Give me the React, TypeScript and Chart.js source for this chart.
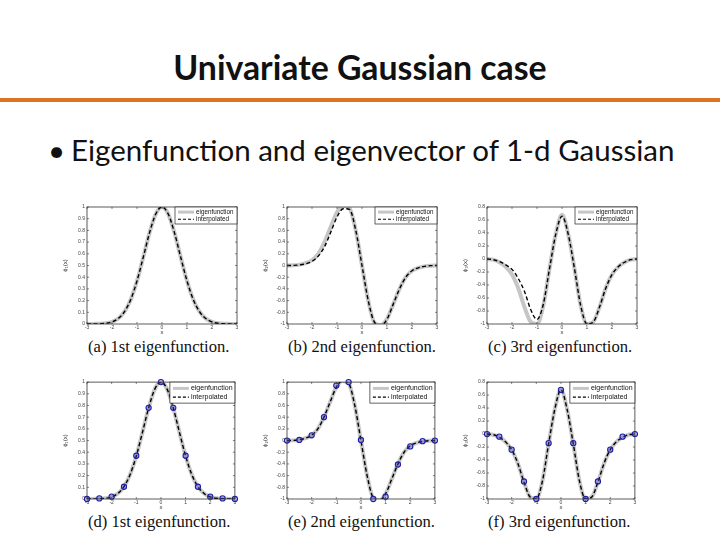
import React, { useEffect, useRef } from "react";
import { Chart, registerables } from "chart.js";
Chart.register(...registerables);

// x positions of the curve readings and of the sampled points
const xFine = [-3, -2.75, -2.5, -2.25, -2, -1.75, -1.5, -1.25, -1, -0.75, -0.5, -0.25, 0, 0.25, 0.5, 0.75, 1, 1.25, 1.5, 1.75, 2, 2.25, 2.5, 2.75, 3];
const xCoarse = [-3, -2.5, -2, -1.5, -1, -0.5, 0, 0.5, 1, 1.5, 2, 2.5, 3];
const xTicks = [-3, -2, -1, 0, 1, 2, 3];

// 1st eigenfunction
const eig1 = [0, 0.001, 0.002, 0.006, 0.018, 0.047, 0.105, 0.21, 0.368, 0.57, 0.779, 0.94, 1, 0.94, 0.779, 0.57, 0.368, 0.21, 0.105, 0.047, 0.018, 0.006, 0.002, 0.001, 0];
const interp1 = [0, 0.001, 0.002, 0.006, 0.018, 0.047, 0.105, 0.21, 0.368, 0.57, 0.779, 0.94, 1, 0.94, 0.779, 0.57, 0.368, 0.21, 0.105, 0.047, 0.018, 0.006, 0.002, 0.001, 0];
// 2nd eigenfunction
const eig2 = [0, 0.003, 0.015, 0.04, 0.09, 0.2, 0.4, 0.66, 0.91, 1.02, 0.98, 0.6, 0, -0.6, -0.98, -1.02, -0.91, -0.66, -0.4, -0.2, -0.09, -0.04, -0.015, -0.003, 0];
const interp2 = [0, 0.002, 0.01, 0.03, 0.07, 0.16, 0.32, 0.57, 0.83, 0.97, 0.96, 0.6, 0, -0.6, -0.97, -1.02, -0.92, -0.66, -0.4, -0.2, -0.09, -0.04, -0.015, -0.003, 0];
// 3rd eigenfunction
const eig3 = [0, -0.01, -0.05, -0.12, -0.24, -0.45, -0.74, -0.97, -1.0, -0.72, -0.15, 0.38, 0.68, 0.38, -0.15, -0.72, -1.0, -0.97, -0.74, -0.45, -0.24, -0.12, -0.05, -0.01, 0];
const interp3 = [0, -0.01, -0.04, -0.09, -0.16, -0.3, -0.5, -0.78, -0.93, -0.7, -0.15, 0.38, 0.66, 0.38, -0.15, -0.72, -1.0, -0.97, -0.74, -0.45, -0.24, -0.12, -0.05, -0.01, 0];

// sampled points (eigenvector entries)
const samp1 = [0, 0.005, 0.02, 0.105, 0.37, 0.78, 1.0, 0.78, 0.37, 0.105, 0.02, 0.005, 0];
const samp2 = [0, 0.01, 0.09, 0.4, 0.94, 1.0, 0.01, -1.0, -0.96, -0.41, -0.1, -0.01, 0];
const samp3 = [0, -0.04, -0.24, -0.73, -1.0, -0.14, 0.68, -0.14, -1.0, -0.73, -0.24, -0.04, 0];

// tick labels
const yTicks1 = [0, 0.1, 0.2, 0.3, 0.4, 0.5, 0.6, 0.7, 0.8, 0.9, 1];
const yTicks2 = [-1, -0.8, -0.6, -0.4, -0.2, 0, 0.2, 0.4, 0.6, 0.8, 1];
const yTicks3 = [-1, -0.8, -0.6, -0.4, -0.2, 0, 0.2, 0.4, 0.6, 0.8];

const legendLabels = ["eigenfunction", "interpolated"];
const captions = [
  "(a) 1st eigenfunction.",
  "(b) 2nd eigenfunction.",
  "(c) 3rd eigenfunction.",
  "(d) 1st eigenfunction.",
  "(e) 2nd eigenfunction.",
  "(f) 3rd eigenfunction.",
];

const framePlugin = {
  id: "frame",
  afterDatasetsDraw(chart: any) {
    const { ctx, chartArea: a, scales } = chart;
    ctx.save();
    ctx.strokeStyle = "#333";
    ctx.lineWidth = 0.8;
    ctx.strokeRect(a.left, a.top, a.right - a.left, a.bottom - a.top);
    ctx.lineWidth = 0.6;
    ctx.beginPath();
    scales.x.ticks.forEach((t: any) => {
      const px = scales.x.getPixelForValue(t.value);
      ctx.moveTo(px, a.bottom);
      ctx.lineTo(px, a.bottom - 2);
      ctx.moveTo(px, a.top);
      ctx.lineTo(px, a.top + 2);
    });
    scales.y.ticks.forEach((t: any) => {
      const py = scales.y.getPixelForValue(t.value);
      ctx.moveTo(a.left, py);
      ctx.lineTo(a.left + 2, py);
      ctx.moveTo(a.right, py);
      ctx.lineTo(a.right - 2, py);
    });
    ctx.stroke();
    ctx.restore();
  },
};

function makeLegendPlugin(w: number, h: number, fs: number) {
  return {
    id: "insideLegend",
    afterDraw(chart: any) {
      const { ctx, chartArea: a } = chart;
      const x0 = a.right - w;
      const y0 = a.top;
      ctx.save();
      ctx.fillStyle = "#fff";
      ctx.fillRect(x0, y0, w, h);
      ctx.strokeStyle = "#222";
      ctx.lineWidth = 0.7;
      ctx.strokeRect(x0, y0, w, h);
      const r1 = y0 + h * 0.3;
      const r2 = y0 + h * 0.72;
      ctx.lineWidth = 3;
      ctx.strokeStyle = "#c6c6c6";
      ctx.beginPath();
      ctx.moveTo(x0 + 3, r1);
      ctx.lineTo(x0 + 19, r1);
      ctx.stroke();
      ctx.lineWidth = 1.2;
      ctx.strokeStyle = "#000";
      ctx.setLineDash([3, 2]);
      ctx.beginPath();
      ctx.moveTo(x0 + 3, r2);
      ctx.lineTo(x0 + 19, r2);
      ctx.stroke();
      ctx.setLineDash([]);
      ctx.fillStyle = "#111";
      ctx.font = `${fs}px "Liberation Sans"`;
      ctx.textBaseline = "middle";
      ctx.fillText(legendLabels[0], x0 + 21, r1);
      ctx.fillText(legendLabels[1], x0 + 21, r2);
      ctx.restore();
    },
  };
}

type PanelProps = {
  plotLeft: number;
  plotTop: number;
  eig: number[];
  interp: number[];
  samples?: number[];
  yMin: number;
  yMax: number;
  yTicks: number[];
  yLabel: string;
  legendW: number;
  legendH: number;
  legendFs: number;
};

function Panel(p: PanelProps) {
  const ref = useRef<HTMLCanvasElement>(null);
  useEffect(() => {
    const toXY = (xs: number[], ys: number[]) => xs.map((x, i) => ({ x, y: ys[i] }));
    const datasets: any[] = [];
    if (p.samples) {
      datasets.push({
        data: toXY(xCoarse, p.samples),
        showLine: false,
        pointRadius: 2.6,
        pointBorderWidth: 1.1,
        pointBorderColor: "#1f1fa8",
        pointBackgroundColor: "rgba(70,70,200,0.35)",
        clip: false,
      });
    }
    datasets.push({
      data: toXY(xFine, p.interp),
      borderColor: "#000",
      borderWidth: 1.4,
      borderDash: [4, 2.5],
      pointRadius: 0,
      cubicInterpolationMode: "monotone",
      clip: 0,
    });
    datasets.push({
      data: toXY(xFine, p.eig),
      borderColor: "#c6c6c6",
      borderWidth: 4,
      pointRadius: 0,
      cubicInterpolationMode: "monotone",
      clip: 0,
    });
    const tickFont = { size: 5, family: "Liberation Sans" };
    const chart = new Chart(ref.current as HTMLCanvasElement, {
      type: "line",
      data: { datasets },
      options: {
        animation: false,
        responsive: false,
        devicePixelRatio: 1,
        layout: { padding: { left: 0, right: 3, top: 4, bottom: 0 } },
        plugins: { legend: { display: false }, tooltip: { enabled: false } },
        scales: {
          x: {
            type: "linear",
            min: -3,
            max: 3,
            afterBuildTicks: (s: any) => {
              s.ticks = xTicks.map((v) => ({ value: v }));
            },
            afterFit: (s: any) => {
              s.height = 12;
            },
            ticks: { font: tickFont, color: "#444", padding: 1, maxRotation: 0, autoSkip: false, callback: (v: any) => String(v) },
            grid: { display: false, drawTicks: false },
            border: { display: false },
            title: { display: true, text: "x", font: { size: 6, family: "Liberation Sans" }, color: "#333", padding: 0 },
          },
          y: {
            type: "linear",
            min: p.yMin,
            max: p.yMax,
            afterBuildTicks: (s: any) => {
              s.ticks = p.yTicks.map((v) => ({ value: v }));
            },
            afterFit: (s: any) => {
              s.width = 25;
            },
            ticks: { font: tickFont, color: "#444", padding: 2, autoSkip: false, callback: (v: any) => String(v) },
            grid: { display: false, drawTicks: false },
            border: { display: false },
            title: { display: true, text: p.yLabel, font: { size: 6, family: "Liberation Sans" }, color: "#333", padding: 0 },
          },
        },
      },
      plugins: [framePlugin, makeLegendPlugin(p.legendW, p.legendH, p.legendFs)],
    } as any);
    return () => chart.destroy();
  }, []);
  return (
    <canvas
      ref={ref}
      width={178}
      height={134}
      style={{ position: "absolute", left: p.plotLeft - 25, top: p.plotTop - 4, width: 178, height: 134 }}
    />
  );
}

const colLefts = [87, 287, 487];
const rowTops = [206, 381];

export default function App() {
  const captionStyle = (left: number, top: number): React.CSSProperties => ({
    position: "absolute",
    left,
    top,
    fontFamily: '"Liberation Serif", serif',
    fontSize: 16.6,
    lineHeight: "16px",
    color: "#111",
    whiteSpace: "nowrap",
  });
  const rows = [
    { eigs: [eig1, eig2, eig3], interps: [interp1, interp2, interp3], samples: undefined as any },
    { eigs: [eig1, eig2, eig3], interps: [eig1, eig2, eig3], samples: [samp1, samp2, samp3] },
  ];
  const yCfg = [
    { yMin: 0, yMax: 1, yTicks: yTicks1, yLabel: "ϕ₁(x)" },
    { yMin: -1, yMax: 1, yTicks: yTicks2, yLabel: "ϕ₂(x)" },
    { yMin: -1, yMax: 0.8, yTicks: yTicks3, yLabel: "ϕ₃(x)" },
  ];
  return (
    <div style={{ position: "fixed", left: 0, top: 0, width: 720, height: 540, background: "#fff", overflow: "hidden" }}>
      <div
        style={{
          position: "absolute",
          left: 0,
          width: 720,
          top: 50,
          textAlign: "center",
          fontFamily: "Lato, sans-serif",
          fontWeight: 700,
          fontSize: 33.8,
          lineHeight: "34px",
          color: "#111",
        }}
      >
        Univariate Gaussian case
      </div>
      <div style={{ position: "absolute", left: 0, top: 98, width: 720, height: 4, background: "#dd7421" }} />
      <div
        style={{
          position: "absolute",
          left: 48,
          top: 135,
          fontFamily: "Lato, sans-serif",
          fontSize: 29.5,
          lineHeight: "29px",
          color: "#111",
          whiteSpace: "nowrap",
        }}
      >
        •
      </div>
      <div
        style={{
          position: "absolute",
          left: 71,
          top: 135,
          fontFamily: "Lato, sans-serif",
          fontSize: 29.5,
          lineHeight: "29px",
          color: "#111",
          whiteSpace: "nowrap",
        }}
      >
        Eigenfunction and eigenvector of 1-d Gaussian
      </div>
      {rows.map((row, r) =>
        colLefts.map((cl, c) => (
          <Panel
            key={`${r}-${c}`}
            plotLeft={cl}
            plotTop={rowTops[r]}
            eig={row.eigs[c]}
            interp={row.interps[c]}
            samples={row.samples ? row.samples[c] : undefined}
            yMin={yCfg[c].yMin}
            yMax={yCfg[c].yMax}
            yTicks={yCfg[c].yTicks}
            yLabel={yCfg[c].yLabel}
            legendW={r === 0 ? 62 : 65}
            legendH={r === 0 ? 17 : 21}
            legendFs={r === 0 ? 6.3 : 7}
          />
        ))
      )}
      {captions.map((t, i) => (
        <div key={t} style={captionStyle(colLefts[i % 3] + 1, i < 3 ? 339 : 514)}>
          {t}
        </div>
      ))}
    </div>
  );
}
